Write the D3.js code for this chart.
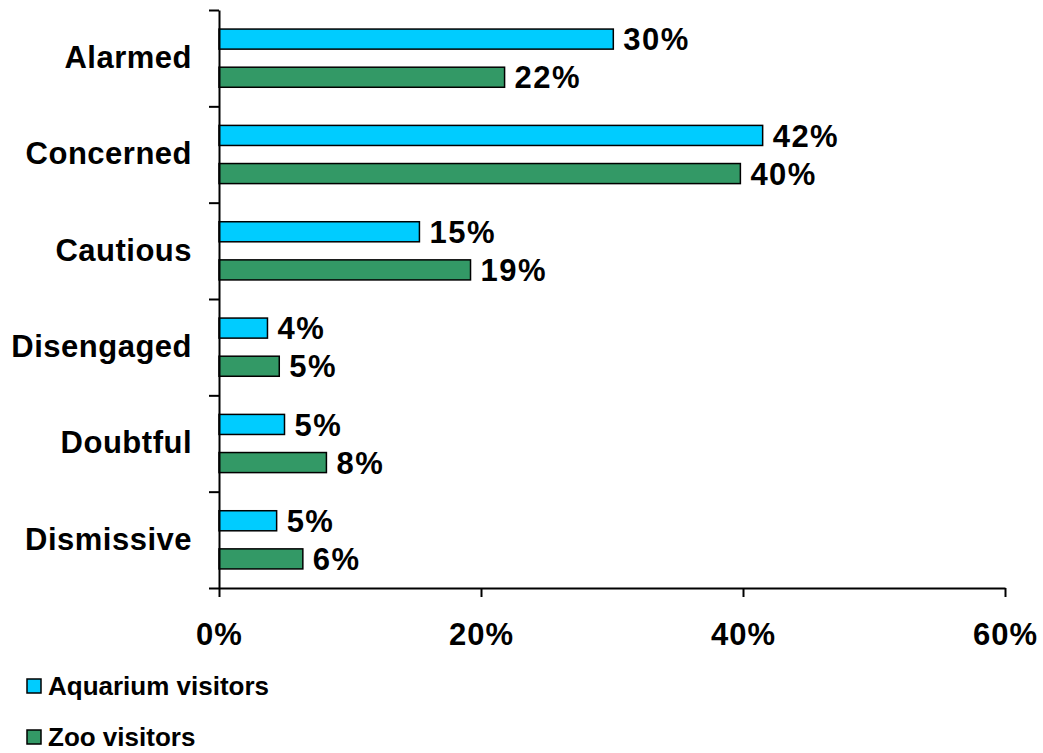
<!DOCTYPE html>
<html>
<head>
<meta charset="utf-8">
<script src="https://cdn.jsdelivr.net/npm/d3@7"></script>
<style>
  html, body { margin: 0; padding: 0; background: #fff; }
  svg { display: block; font-family: Arial, "Liberation Sans", sans-serif; font-weight: bold; }
</style>
</head>
<body>
<div id="chart"></div>
<script>
// data
const categories = ['Alarmed', 'Concerned', 'Cautious', 'Disengaged', 'Doubtful', 'Dismissive'];
const seriesNames = ['Aquarium visitors', 'Zoo visitors'];
const aquariumValues = [0.301, 0.415, 0.153, 0.037, 0.050, 0.044];
const zooValues = [0.218, 0.398, 0.192, 0.046, 0.082, 0.064];
const aquariumLabels = ['30%', '42%', '15%', '4%', '5%', '5%'];
const zooLabels = ['22%', '40%', '19%', '5%', '8%', '6%'];
const xTicks = [0, 0.2, 0.4, 0.6];
const colors = ['#00CCFF', '#339966'];

const width = 1043, height = 753;
const plotLeft = 219, plotRight = 1005, plotTop = 10, plotBottom = 588;
const fontFam = 'Arial, "Liberation Sans", sans-serif';

const svg = d3.select('#chart').append('svg')
    .attr('width', width)
    .attr('height', height);

const x = d3.scaleLinear().domain([0, 0.6]).range([plotLeft, plotRight]);

const y0 = d3.scaleBand().domain(categories).range([plotTop, plotBottom]);
const y1 = d3.scaleBand().domain(seriesNames)
    .range([0, y0.bandwidth()])
    .paddingInner(0.474)
    .paddingOuter(0.5);

// band edges for the y tick marks
const yEdge = d3.scaleLinear().domain([0, categories.length]).range([plotTop, plotBottom]);

const rows = categories.map((c, i) => ({
    cat: c,
    bars: [
        { s: seriesNames[0], v: aquariumValues[i], label: aquariumLabels[i], color: colors[0] },
        { s: seriesNames[1], v: zooValues[i], label: zooLabels[i], color: colors[1] }
    ]
}));

const groups = svg.selectAll('.cat')
    .data(rows)
    .enter()
    .append('g')
    .attr('class', 'cat')
    .attr('transform', d => `translate(0,${y0(d.cat)})`);

groups.selectAll('rect')
    .data(d => d.bars)
    .enter()
    .append('rect')
    .attr('x', x(0))
    .attr('y', d => y1(d.s))
    .attr('width', d => x(d.v) - x(0))
    .attr('height', y1.bandwidth())
    .attr('fill', d => d.color)
    .attr('stroke', '#000')
    .attr('stroke-width', 1.5);

groups.selectAll('.val')
    .data(d => d.bars)
    .enter()
    .append('text')
    .attr('class', 'val')
    .attr('x', d => x(d.v) + 10)
    .attr('y', d => y1(d.s) + y1.bandwidth() / 2)
    .attr('dy', '0.36em')
    .style('font-size', '31px')
    .style('letter-spacing', '1.5px')
    .text(d => d.label);

// category labels
const yLab = svg.append('g')
    .attr('transform', `translate(${plotLeft},0)`)
    .call(d3.axisLeft(y0).tickSize(0).tickPadding(27));
yLab.select('.domain').remove();
yLab.selectAll('text')
    .style('font-size', '31px')
    .style('letter-spacing', '0.5px')
    .style('font-family', fontFam)
    .style('font-weight', 'bold')
    .attr('fill', '#000');

// y axis line with ticks at band edges
const yAx = svg.append('g')
    .attr('transform', `translate(${plotLeft},0)`)
    .call(d3.axisLeft(yEdge).tickValues(d3.range(categories.length + 1)).tickSize(10).tickSizeOuter(0).tickFormat(''));
yAx.selectAll('path, line').attr('stroke', '#000').attr('stroke-width', 2);

// x axis
const xAx = svg.append('g')
    .attr('transform', `translate(0,${plotBottom})`)
    .call(d3.axisBottom(x).tickValues(xTicks).tickFormat(d3.format('.0%')).tickSize(9).tickSizeOuter(0).tickPadding(26));
xAx.selectAll('path, line').attr('stroke', '#000').attr('stroke-width', 2);
xAx.selectAll('text')
    .style('font-size', '31px')
    .style('letter-spacing', '1px')
    .style('font-family', fontFam)
    .style('font-weight', 'bold')
    .attr('fill', '#000');

// legend
const legend = svg.append('g').attr('transform', 'translate(27,679)');
const legendRows = legend.selectAll('g')
    .data(seriesNames)
    .enter()
    .append('g')
    .attr('transform', (d, i) => `translate(0,${i * 51})`);

legendRows.append('rect')
    .attr('width', 14)
    .attr('height', 14)
    .attr('fill', (d, i) => colors[i])
    .attr('stroke', '#000')
    .attr('stroke-width', 1.5);

legendRows.append('text')
    .attr('x', 21)
    .attr('y', 16)
    .style('font-size', '26px')
    .text(d => d);
</script>
</body>
</html>
